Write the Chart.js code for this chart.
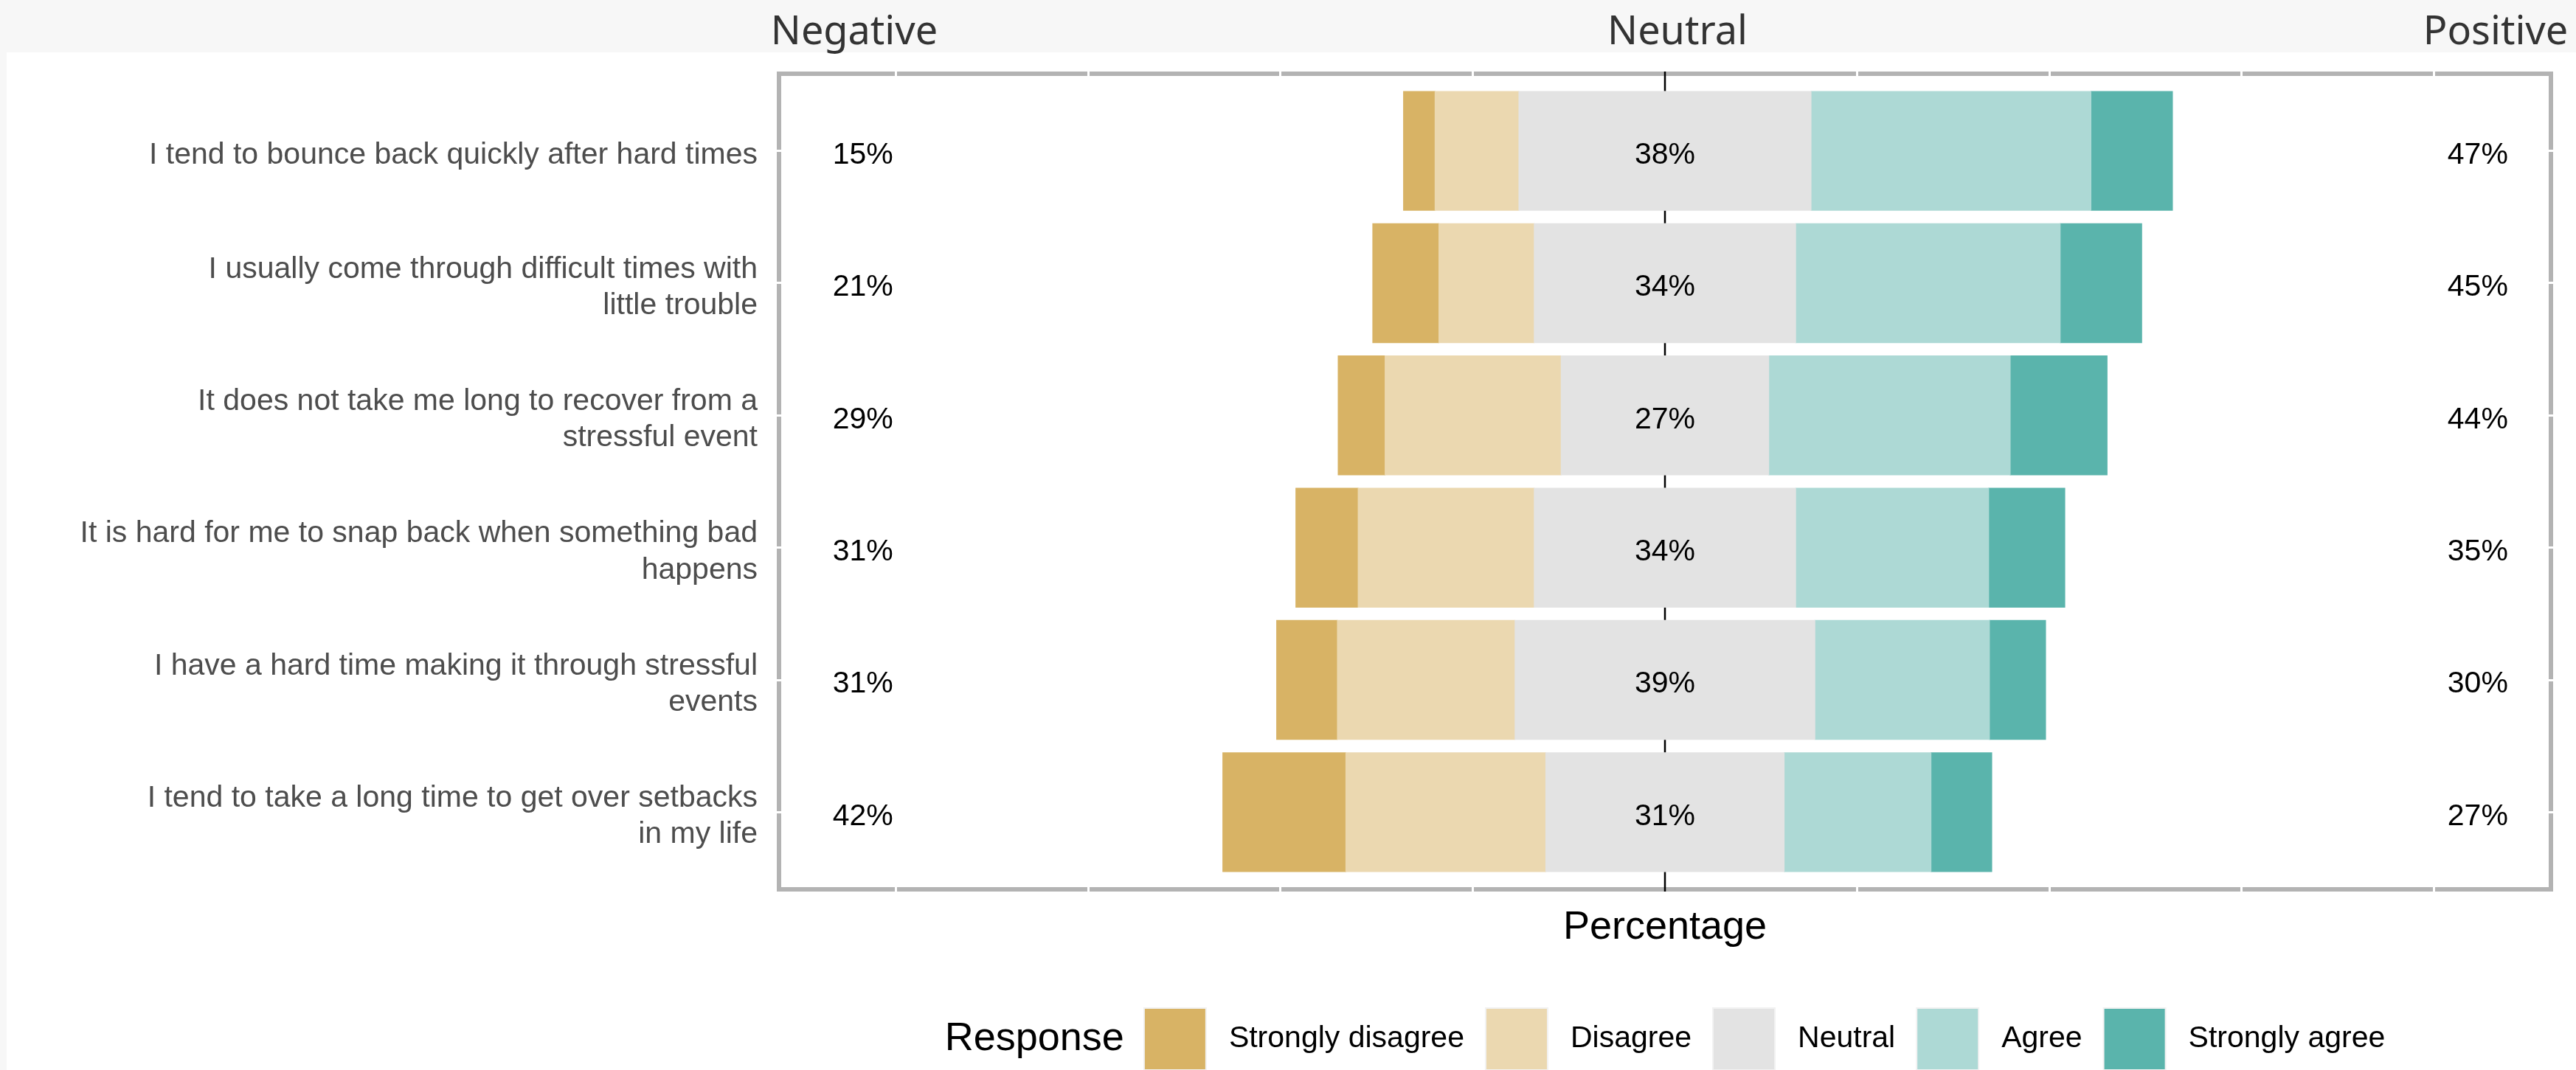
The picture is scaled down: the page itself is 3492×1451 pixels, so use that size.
<!DOCTYPE html>
<html>
<head>
<meta charset="utf-8">
<title>Resilience scale responses</title>
<script src="https://cdn.jsdelivr.net/npm/chart.js@4.4.1/dist/chart.umd.min.js"></script>
<style>
  html, body { margin: 0; padding: 0; background: #ffffff; }
  canvas { display: block; }
</style>
</head>
<body>
<canvas id="likertChart" width="3492" height="1451"></canvas>
<script>
// Survey statements, top to bottom
const items = [
  "I tend to bounce back quickly after hard times",
  ["I usually come through difficult times with", "little trouble"],
  ["It does not take me long to recover from a", "stressful event"],
  ["It is hard for me to snap back when something bad", "happens"],
  ["I have a hard time making it through stressful", "events"],
  ["I tend to take a long time to get over setbacks", "in my life"]
];

// Share of answers per statement (%)
const stronglyDisagree = [4.1, 8.6, 6.1, 8.1, 7.9, 16.0];
const disagree         = [10.9, 12.4, 22.9, 22.9, 23.1, 26.0];
const neutral          = [38, 34, 27, 34, 39, 31];
const agree            = [36.4, 34.4, 31.4, 25.1, 22.7, 19.1];
const stronglyAgree    = [10.6, 10.6, 12.6, 9.9, 7.3, 7.9];

const responses = ["Strongly disagree", "Disagree", "Neutral", "Agree", "Strongly agree"];
const colors    = ["#d8b365", "#ebd8b0", "#e3e3e3", "#add9d5", "#5ab4ac"];

const gridTicks = [-100, -75, -50, -25, 0, 25, 50, 75, 100];
// where the negative / positive totals sit on the x scale
const negLabelAt = -104.3;
const posLabelAt = 105.7;
const headers = [["Negative", 1158], ["Neutral", 2274], ["Positive", 3383]];
const textDrop = 6;   // text sits a touch below the bar centre

const FONT = '"Liberation Sans", Arial, sans-serif';

Chart.defaults.font.family = FONT;

// negative answers go left of zero, neutral is split across it
const asRow = (arr, sign) => arr.map((v, i) => ({ x: sign * v, y: i }));

const datasets = [
  { label: "Neutral", data: asRow(neutral.map(v => v / 2), -1), backgroundColor: colors[2] },
  { label: "Disagree", data: asRow(disagree, -1), backgroundColor: colors[1] },
  { label: "Strongly disagree", data: asRow(stronglyDisagree, -1), backgroundColor: colors[0] },
  { label: "Neutral", data: asRow(neutral.map(v => v / 2), 1), backgroundColor: colors[2] },
  { label: "Agree", data: asRow(agree, 1), backgroundColor: colors[3] },
  { label: "Strongly agree", data: asRow(stronglyAgree, 1), backgroundColor: colors[4] }
];

const pct = v => Math.round(v) + "%";

const decorations = {
  id: "decorations",
  beforeDraw(chart) {
    const { ctx, width, height, chartArea: a } = chart;
    ctx.save();
    ctx.fillStyle = "#f7f7f7";
    ctx.fillRect(0, 0, width, height);
    ctx.fillStyle = "#ffffff";
    ctx.fillRect(9, 71, width - 9, height - 71);

    // panel frame, kept inside the area so the grid lines cut across it
    ctx.strokeStyle = "#b3b3b3";
    ctx.lineWidth = 6;
    ctx.strokeRect(a.left + 3, a.top + 3, a.right - a.left - 6, a.bottom - a.top - 6);

    ctx.font = '54px "Noto Sans", sans-serif';
    ctx.fillStyle = "#333333";
    ctx.textAlign = "center";
    ctx.textBaseline = "alphabetic";
    headers.forEach(([t, x]) => ctx.fillText(t, x, 60));
    ctx.restore();
  },
  beforeDatasetsDraw(chart) {
    // zero reference line, underneath the bars
    const { ctx, chartArea: a } = chart;
    const x0 = chart.scales.x.getPixelForValue(0);
    ctx.save();
    ctx.strokeStyle = "#000000";
    ctx.lineWidth = 2.5;
    ctx.beginPath();
    ctx.moveTo(x0, a.top);
    ctx.lineTo(x0, a.bottom);
    ctx.stroke();
    ctx.restore();
  },
  afterDatasetsDraw(chart) {
    const { ctx } = chart;
    const xs = chart.scales.x, ys = chart.scales.y;
    ctx.save();
    ctx.font = "41px " + FONT;
    ctx.fillStyle = "#000000";
    ctx.textAlign = "center";
    ctx.textBaseline = "middle";
    items.forEach((_, i) => {
      const y = ys.getPixelForValue(i) + textDrop;
      ctx.fillText(pct(stronglyDisagree[i] + disagree[i]), xs.getPixelForValue(negLabelAt), y);
      ctx.fillText(pct(neutral[i]), xs.getPixelForValue(0), y);
      ctx.fillText(pct(agree[i] + stronglyAgree[i]), xs.getPixelForValue(posLabelAt), y);
    });
    ctx.restore();
  },
  afterDraw(chart) {
    const { ctx, chartArea: a } = chart;
    const cy = 1409, box = 82;
    ctx.save();
    ctx.textBaseline = "middle";
    ctx.textAlign = "left";

    // measure the whole row first so it can be centred under the panel
    ctx.font = "54px " + FONT;
    const titleW = ctx.measureText("Response").width;
    ctx.font = "41px " + FONT;
    const widths = responses.map(r => ctx.measureText(r).width);
    const total = titleW + 28 + widths.reduce((s, w) => s + box + 32 + w, 0) + 30 * (responses.length - 1);
    let x = (a.left + a.right) / 2 - total / 2;

    ctx.font = "54px " + FONT;
    ctx.fillStyle = "#000000";
    ctx.fillText("Response", x, cy);
    x += titleW + 28;

    ctx.font = "41px " + FONT;
    responses.forEach((r, k) => {
      ctx.fillStyle = "#f2f2f2";
      ctx.fillRect(x - 2, cy - box / 2 - 2, box + 4, box + 4);
      ctx.fillStyle = colors[k];
      ctx.fillRect(x, cy - box / 2, box, box);
      x += box + 32;
      ctx.fillStyle = "#000000";
      ctx.fillText(r, x, cy);
      x += widths[k] + 30;
    });
    ctx.restore();
  }
};

new Chart(document.getElementById("likertChart"), {
  type: "bar",
  data: { datasets },
  plugins: [decorations],
  options: {
    indexAxis: "y",
    responsive: false,
    devicePixelRatio: 1,
    animation: false,
    layout: { padding: { top: 97, right: 31, bottom: 0, left: 0 } },
    datasets: {
      bar: { barPercentage: 0.9, categoryPercentage: 1, borderWidth: 0, inflateAmount: 0.5 }
    },
    plugins: {
      legend: { display: false },
      tooltip: { enabled: false }
    },
    scales: {
      x: {
        type: "linear",
        stacked: true,
        min: -115.5,
        max: 115.5,
        afterBuildTicks: s => { s.ticks = gridTicks.map(v => ({ value: v })); },
        afterFit: s => { s.height = 242; },
        ticks: { display: false },
        border: { display: false },
        grid: {
          drawTicks: false,
          color: "#ffffff",
          // zero line is drawn by the plugin; width 0 here keeps bars flush at zero
          lineWidth: c => (c.tick && c.tick.value === 0 ? 0 : 3)
        },
        title: {
          display: true,
          text: "Percentage",
          color: "#000000",
          font: { size: 54 },
          padding: { top: 0, bottom: 160 }
        }
      },
      y: {
        type: "linear",
        stacked: true,
        reverse: true,
        offset: false,
        min: -0.6,
        max: 5.6,
        afterBuildTicks: s => { s.ticks = items.map((_, i) => ({ value: i })); },
        afterFit: s => { s.width = 1053; },
        ticks: {
          autoSkip: false,
          padding: 26,
          labelOffset: textDrop,
          color: "#4d4d4d",
          font: { size: 41, lineHeight: 1.2 },
          callback: v => items[v]
        },
        border: { display: false },
        grid: { offset: false, drawTicks: false, color: "#ffffff", lineWidth: 3 }
      }
    }
  }
});
</script>
</body>
</html>
